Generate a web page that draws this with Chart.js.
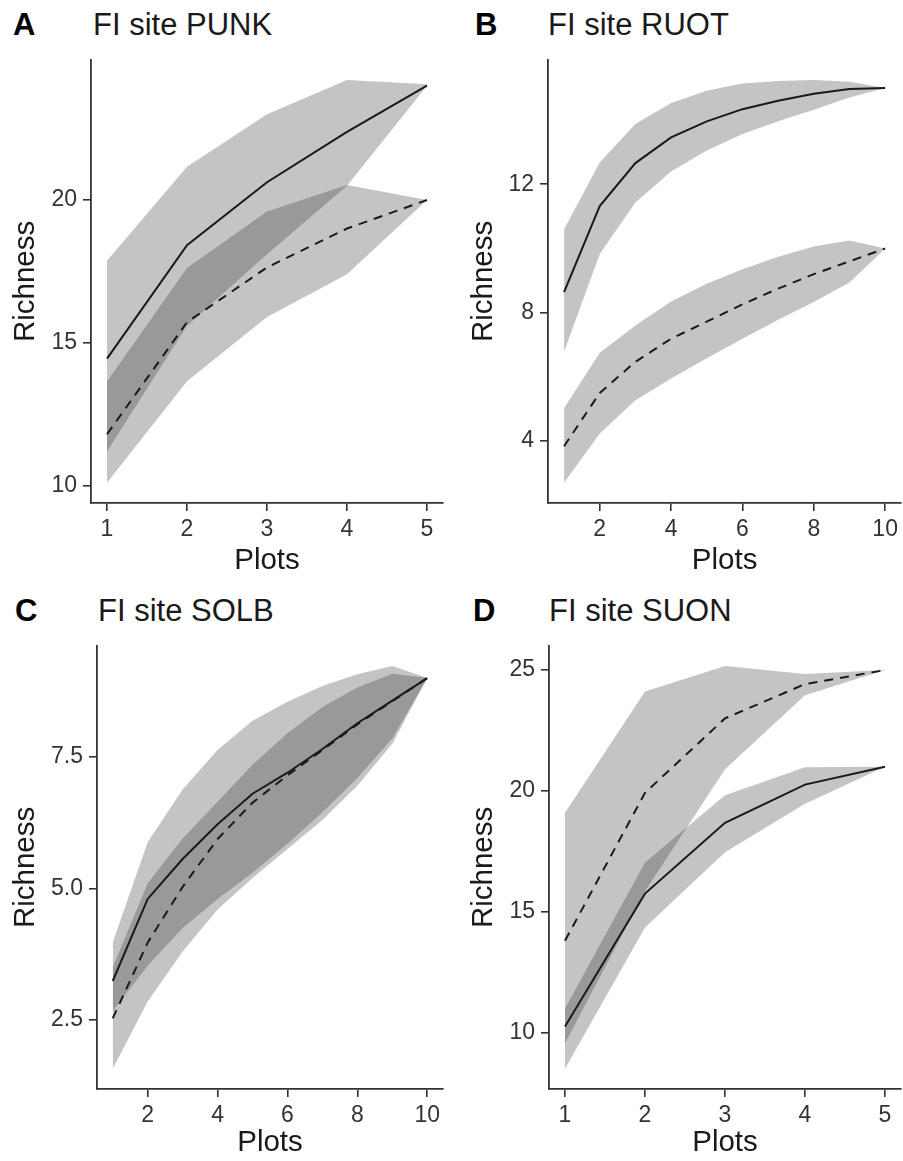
<!DOCTYPE html>
<html>
<head>
<meta charset="utf-8">
<script src="https://cdn.jsdelivr.net/npm/chart.js@4.4.1/dist/chart.umd.min.js"></script>
<style>
  body { margin: 0; background: #fff; }
  .wrap { position: relative; width: 903px; height: 1161px; font-family: "Liberation Sans", Arial, sans-serif; }
  .wrap canvas { position: absolute; }
  .letter { position: absolute; font-size: 31px; font-weight: bold; line-height: 31px; color: #000; }
  .title { position: absolute; font-size: 31px; line-height: 31px; color: #1a1a1a; white-space: nowrap; }
</style>
</head>
<body>
<div class="wrap">
  <div class="letter" style="left:13px; top:9px">A</div>
  <div class="title" style="left:93px; top:9px">FI site PUNK</div>
  <div class="letter" style="left:475px; top:9px">B</div>
  <div class="title" style="left:548px; top:9px">FI site RUOT</div>
  <div class="letter" style="left:15px; top:595px">C</div>
  <div class="title" style="left:98px; top:595px">FI site SOLB</div>
  <div class="letter" style="left:473px; top:595px">D</div>
  <div class="title" style="left:549px; top:595px">FI site SUON</div>

  <canvas id="punkChart" width="451" height="540" style="left:0px; top:40px"></canvas>
  <canvas id="ruotChart" width="452" height="540" style="left:451px; top:40px"></canvas>
  <canvas id="solbChart" width="451" height="535" style="left:0px; top:626px"></canvas>
  <canvas id="suonChart" width="452" height="535" style="left:451px; top:626px"></canvas>
</div>
<script>
  // A - PUNK
  const punkPlots = [1, 2, 3, 4, 5];
  const punkSolid = [14.45, 18.42, 20.62, 22.38, 24.0];
  const punkSolidLow = [11.2, 15.6, 18.1, 20.5, 24.0];
  const punkSolidHigh = [17.87, 21.16, 23.0, 24.2, 24.05];
  const punkDashed = [11.8, 15.72, 17.64, 19.0, 20.0];
  const punkDashedLow = [10.1, 13.66, 15.9, 17.4, 20.0];
  const punkDashedHigh = [13.65, 17.62, 19.6, 20.52, 20.0];
  const punkXTicks = [1, 2, 3, 4, 5];
  const punkYTicks = [10, 15, 20];

  // B - RUOT
  const ruotPlots = [1, 2, 3, 4, 5, 6, 7, 8, 9, 10];
  const ruotSolid = [8.64, 11.32, 12.66, 13.46, 13.96, 14.34, 14.6, 14.82, 14.97, 15.0];
  const ruotSolidLow = [6.78, 9.83, 11.43, 12.4, 13.05, 13.57, 13.96, 14.32, 14.7, 15.0];
  const ruotSolidHigh = [10.6, 12.68, 13.88, 14.53, 14.91, 15.14, 15.22, 15.25, 15.19, 15.0];
  const ruotDashed = [3.84, 5.5, 6.47, 7.19, 7.72, 8.26, 8.75, 9.2, 9.6, 10.0];
  const ruotDashedLow = [2.7, 4.24, 5.27, 5.95, 6.58, 7.19, 7.78, 8.33, 8.94, 10.0];
  const ruotDashedHigh = [5.02, 6.75, 7.6, 8.35, 8.9, 9.35, 9.74, 10.06, 10.25, 10.0];
  const ruotXTicks = [2, 4, 6, 8, 10];
  const ruotYTicks = [4, 8, 12];

  // C - SOLB
  const solbPlots = [1, 2, 3, 4, 5, 6, 7, 8, 9, 10];
  const solbSolid = [3.24, 4.8, 5.56, 6.22, 6.8, 7.2, 7.65, 8.14, 8.57, 9.0];
  const solbSolidLow = [2.67, 3.53, 4.25, 4.8, 5.3, 5.85, 6.45, 7.1, 7.85, 9.0];
  const solbSolidHigh = [3.97, 5.88, 6.88, 7.63, 8.19, 8.55, 8.85, 9.07, 9.23, 9.0];
  const solbDashed = [2.53, 3.97, 5.03, 5.94, 6.63, 7.15, 7.63, 8.12, 8.56, 9.0];
  const solbDashedLow = [1.57, 2.85, 3.8, 4.6, 5.2, 5.75, 6.3, 6.95, 7.75, 9.0];
  const solbDashedHigh = [3.5, 5.1, 5.95, 6.65, 7.35, 7.95, 8.45, 8.82, 9.08, 9.0];
  const solbXTicks = [2, 4, 6, 8, 10];
  const solbYTicks = [2.5, 5.0, 7.5];

  // D - SUON
  const suonPlots = [1, 2, 3, 4, 5];
  const suonSolid = [10.25, 15.75, 18.68, 20.26, 21.0];
  const suonSolidLow = [8.5, 14.35, 17.46, 19.47, 21.0];
  const suonSolidHigh = [11.0, 17.04, 19.82, 20.98, 21.0];
  const suonDashed = [13.8, 19.92, 23.0, 24.42, 25.0];
  const suonDashedLow = [9.56, 15.85, 20.9, 23.96, 25.0];
  const suonDashedHigh = [19.1, 24.11, 25.17, 24.84, 25.0];
  const suonXTicks = [1, 2, 3, 4, 5];
  const suonYTicks = [10, 15, 20, 25];

  const bandColor = 'rgba(38, 38, 38, 0.27)';
  const lineColor = '#1a1a1a';
  const axisColor = '#333';
  const textColor = '#333';
  const font = '"Liberation Sans", Arial, sans-serif';

  // ggplot style 5% expansion
  function limits(arrs) {
    const all = [].concat(...arrs);
    const lo = Math.min(...all);
    const hi = Math.max(...all);
    const pad = (hi - lo) * 0.05;
    return [lo - pad, hi + pad];
  }

  function pts(xs, ys) {
    return xs.map((x, i) => ({x: x, y: ys[i]}));
  }

  function makeConfig(plots, solid, solidLow, solidHigh, dashed, dashedLow, dashedHigh, xTicks, yTicks, decimals, box) {
    const xr = limits([plots]);
    const yr = limits([solidLow, solidHigh, dashedLow, dashedHigh, solid, dashed]);
    const band = {borderColor: 'rgba(0,0,0,0)', borderWidth: 0, pointRadius: 0, backgroundColor: bandColor};
    return {
      type: 'line',
      data: {
        datasets: [
          {data: pts(plots, solid), borderColor: lineColor, borderWidth: 2, pointRadius: 0, fill: false},
          {data: pts(plots, dashed), borderColor: lineColor, borderWidth: 2, borderDash: [9, 7], pointRadius: 0, fill: false},
          Object.assign({data: pts(plots, solidLow), fill: false}, band),
          Object.assign({data: pts(plots, solidHigh), fill: 2}, band),
          Object.assign({data: pts(plots, dashedLow), fill: false}, band),
          Object.assign({data: pts(plots, dashedHigh), fill: 4}, band)
        ]
      },
      options: {
        responsive: false,
        animation: false,
        events: [],
        layout: {padding: box.pad},
        elements: {line: {tension: 0}},
        plugins: {legend: {display: false}, tooltip: {enabled: false}},
        scales: {
          x: {
            type: 'linear',
            min: xr[0],
            max: xr[1],
            afterFit: function(scale) { scale.height = box.xHeight; },
            afterBuildTicks: function(scale) { scale.ticks = xTicks.map(v => ({value: v})); },
            grid: {drawOnChartArea: false, drawTicks: true, tickLength: 8, color: axisColor, lineWidth: 1.6},
            border: {display: true, color: axisColor, width: 1.8},
            ticks: {font: {family: font, size: 23}, color: textColor, padding: 5, maxRotation: 0},
            title: {display: true, text: 'Plots', font: {family: font, size: 29.5}, color: '#1a1a1a', padding: {top: 0, bottom: box.xTitlePad}}
          },
          y: {
            type: 'linear',
            min: yr[0],
            max: yr[1],
            afterFit: function(scale) { scale.width = box.yWidth; },
            afterBuildTicks: function(scale) { scale.ticks = yTicks.map(v => ({value: v})); },
            grid: {drawOnChartArea: false, drawTicks: true, tickLength: 8, color: axisColor, lineWidth: 1.6},
            border: {display: true, color: axisColor, width: 1.8},
            ticks: {font: {family: font, size: 23}, color: textColor, padding: 6,
              callback: function(v) { return v.toFixed(decimals); }},
            title: {display: true, text: 'Richness', font: {family: font, size: 29.5}, color: '#1a1a1a', padding: {top: box.yTitlePad, bottom: 0}}
          }
        }
      }
    };
  }

var punkChart = new Chart(
    document.getElementById('punkChart'),
    makeConfig(punkPlots, punkSolid, punkSolidLow, punkSolidHigh, punkDashed, punkDashedLow, punkDashedHigh,
      punkXTicks, punkYTicks, 0,
      {pad: {left: 0, top: 15, right: 8, bottom: 0}, yWidth: 91, xHeight: 77, xTitlePad: 1, yTitlePad: 8})
  );

//second chart//

var ruotChart = new Chart(
    document.getElementById('ruotChart'),
    makeConfig(ruotPlots, ruotSolid, ruotSolidLow, ruotSolidHigh, ruotDashed, ruotDashedLow, ruotDashedHigh,
      ruotXTicks, ruotYTicks, 0,
      {pad: {left: 0, top: 15, right: 1, bottom: 0}, yWidth: 97, xHeight: 77, xTitlePad: 1, yTitlePad: 15})
  );

//third chart//

var solbChart = new Chart(
    document.getElementById('solbChart'),
    makeConfig(solbPlots, solbSolid, solbSolidLow, solbSolidHigh, solbDashed, solbDashedLow, solbDashedHigh,
      solbXTicks, solbYTicks, 1,
      {pad: {left: 0, top: 15, right: 8, bottom: 0}, yWidth: 97, xHeight: 72, xTitlePad: 0, yTitlePad: 8})
  );

//fourth chart//

var suonChart = new Chart(
    document.getElementById('suonChart'),
    makeConfig(suonPlots, suonSolid, suonSolidLow, suonSolidHigh, suonDashed, suonDashedLow, suonDashedHigh,
      suonXTicks, suonYTicks, 0,
      {pad: {left: 0, top: 15, right: 2, bottom: 0}, yWidth: 98, xHeight: 72, xTitlePad: 0, yTitlePad: 15})
  );
</script>
</body>
</html>
